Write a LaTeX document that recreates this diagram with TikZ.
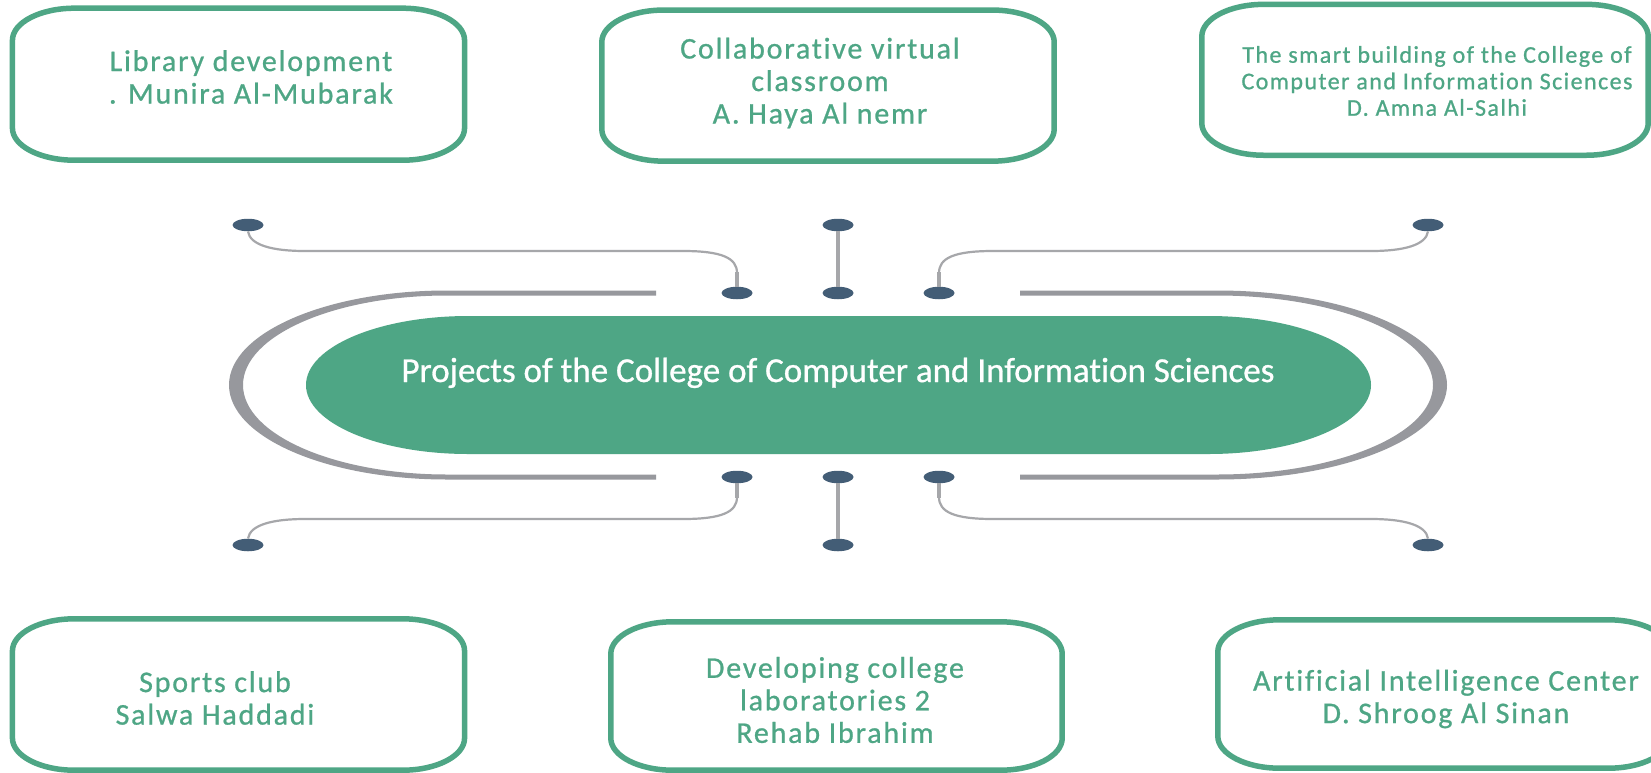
\documentclass[tikz,border=0pt]{standalone}
\usepackage{fontspec}
\setmainfont{Carlito}[Ligatures=NoCommon, FakeBold=0.8]
\newfontfamily\boxfont{Carlito}[LetterSpace=6, Ligatures=NoCommon, FakeBold=0.8]
\usetikzlibrary{shapes.geometric}
\definecolor{cgreen}{HTML}{4EA685}
\definecolor{cring}{HTML}{97989D}
\definecolor{cdot}{HTML}{435D76}
\definecolor{cthin}{HTML}{A6A7AA}
\tikzset{
  boxline/.style={draw=cgreen, line width=5.5pt},
  boxframe/.style={rectangle, draw=none, inner sep=0pt},
  boxtext/.style={font=\boxfont\fontsize{30}{32.5}\selectfont, text=cgreen, align=center, inner sep=0pt},
  smalltext/.style={font=\boxfont\fontsize{24}{26.5}\selectfont, text=cgreen, align=center, inner sep=0pt},
  titletext/.style={font=\fontsize{35}{40}\selectfont, text=white, inner sep=0pt},
  dot/.style={ellipse, fill=cdot, minimum width=31pt, minimum height=12.5pt, inner sep=0pt},
  linkline/.style={draw=cthin, line width=2.2pt},
  stubline/.style={draw=cthin, line width=3.5pt},
  midline/.style={draw=cthin, line width=4.5pt},
}
\newcommand\ovalframe[1]{%
  \draw[boxline] ([xshift=62pt]#1.north west) -- ([xshift=-62pt]#1.north east)
    arc[start angle=90,end angle=0,x radius=62pt,y radius=32pt]
    -- ([yshift=32pt]#1.south east)
    arc[start angle=0,end angle=-90,x radius=62pt,y radius=32pt]
    -- ([xshift=62pt]#1.south west)
    arc[start angle=270,end angle=180,x radius=62pt,y radius=32pt]
    -- ([yshift=-32pt]#1.north west)
    arc[start angle=180,end angle=90,x radius=62pt,y radius=32pt] -- cycle;}
\begin{document}
\begin{tikzpicture}[x=1pt,y=-1pt]
\useasboundingbox (0,0) rectangle (1651,772);
\clip (0,0) rectangle (1651,772);
\fill[white] (0,0) rectangle (1651,772);

% outer ring (two pieces)
\fill[cring] (656,290.5) -- (447,290.5)
  arc[start angle=90,end angle=270,x radius=218pt,y radius=94.5pt]
  -- (656,479.5) -- (656,474.5) -- (447,474.5)
  arc[start angle=270,end angle=90,x radius=204pt,y radius=89.5pt]
  -- (656,295.5) -- cycle;
\fill[cring] (1020,290.5) -- (1217,290.5)
  arc[start angle=90,end angle=-90,x radius=230pt,y radius=94.5pt]
  -- (1020,479.5) -- (1020,474.5) -- (1217,474.5)
  arc[start angle=-90,end angle=90,x radius=216pt,y radius=89.5pt]
  -- (1020,295.5) -- cycle;

% central green stadium
\fill[cgreen] (468.5,316) -- (1208.5,316)
  arc[start angle=90,end angle=-90,x radius=162.5pt,y radius=69pt]
  -- (468.5,454)
  arc[start angle=270,end angle=90,x radius=162.5pt,y radius=69pt] -- cycle;
\node[titletext, anchor=base] (title) at (838,382) {Projects of the College of Computer and Information Sciences};

% dots
\node[dot] (dA1) at (248,225) {};
\node[dot] (dA2) at (838,225) {};
\node[dot] (dA3) at (1428,225) {};
\node[dot] (dB1) at (737,293) {};
\node[dot] (dB2) at (838,293) {};
\node[dot] (dB3) at (939,293) {};
\node[dot] (dC1) at (737,477) {};
\node[dot] (dC2) at (838,477) {};
\node[dot] (dC3) at (939,477) {};
\node[dot] (dD1) at (248,545) {};
\node[dot] (dD2) at (838,545) {};
\node[dot] (dD3) at (1428,545) {};

% connectors top
\draw[linkline] (dA1.south) .. controls (250,245) and (272,251) .. (305,251) -- (683,251)
  .. controls (722,251) and (737,258) .. (737,273);
\draw[stubline] (737,272) -- (dB1.north);
\draw[midline] (dA2.south) -- (dB2.north);
\draw[linkline] (939,273) .. controls (939,258) and (954,251) .. (993,251) -- (1371,251)
  .. controls (1404,251) and (1426,245) .. (dA3.south);
\draw[stubline] (dB3.north) -- (939,272);
% connectors bottom
\draw[linkline] (dD1.north) .. controls (250,525) and (272,519) .. (305,519) -- (683,519)
  .. controls (722,519) and (737,512) .. (737,497);
\draw[stubline] (737,498) -- (dC1.south);
\draw[midline] (dC2.south) -- (dD2.north);
\draw[linkline] (939,497) .. controls (939,512) and (954,519) .. (993,519) -- (1371,519)
  .. controls (1404,519) and (1426,525) .. (dD3.north);
\draw[stubline] (dC3.south) -- (939,498);

% boxes
\node[boxframe, minimum width=451.7pt, minimum height=151.6pt] (b1) at (238.5,84.2) {};
\node[boxframe, minimum width=452pt, minimum height=150.7pt] (b2) at (828,85.6) {};
\node[boxframe, minimum width=446pt, minimum height=150.5pt] (b3) at (1425,79.8) {};
\node[boxframe, minimum width=451.7pt, minimum height=151pt] (b4) at (238.5,694.5) {};
\node[boxframe, minimum width=451pt, minimum height=148pt] (b5) at (836.5,696) {};
\node[boxframe, minimum width=452pt, minimum height=148pt] (b6) at (1444,694) {};
\ovalframe{b1}\ovalframe{b2}\ovalframe{b3}\ovalframe{b4}\ovalframe{b5}\ovalframe{b6}

\node[boxtext] (t1) at (251,77) {Library development\\. Munira Al-Mubarak};
\node[boxtext] (t2) at (820,83) {Collaborative virtual\\classroom\\A. Haya Al nemr};
\node[smalltext] (t3) at (1437,81) {The smart building of the College of\\Computer and Information Sciences\\D. Amna Al-Salhi};
\node[boxtext] (t4) at (215,698) {Sports club\\Salwa Haddadi};
\node[boxtext] (t5) at (835,700) {Developing college\\laboratories 2\\Rehab Ibrahim};
\node[boxtext] (t6) at (1446,699) {Artificial Intelligence Center\\D. Shroog Al Sinan};
\end{tikzpicture}
\end{document}
